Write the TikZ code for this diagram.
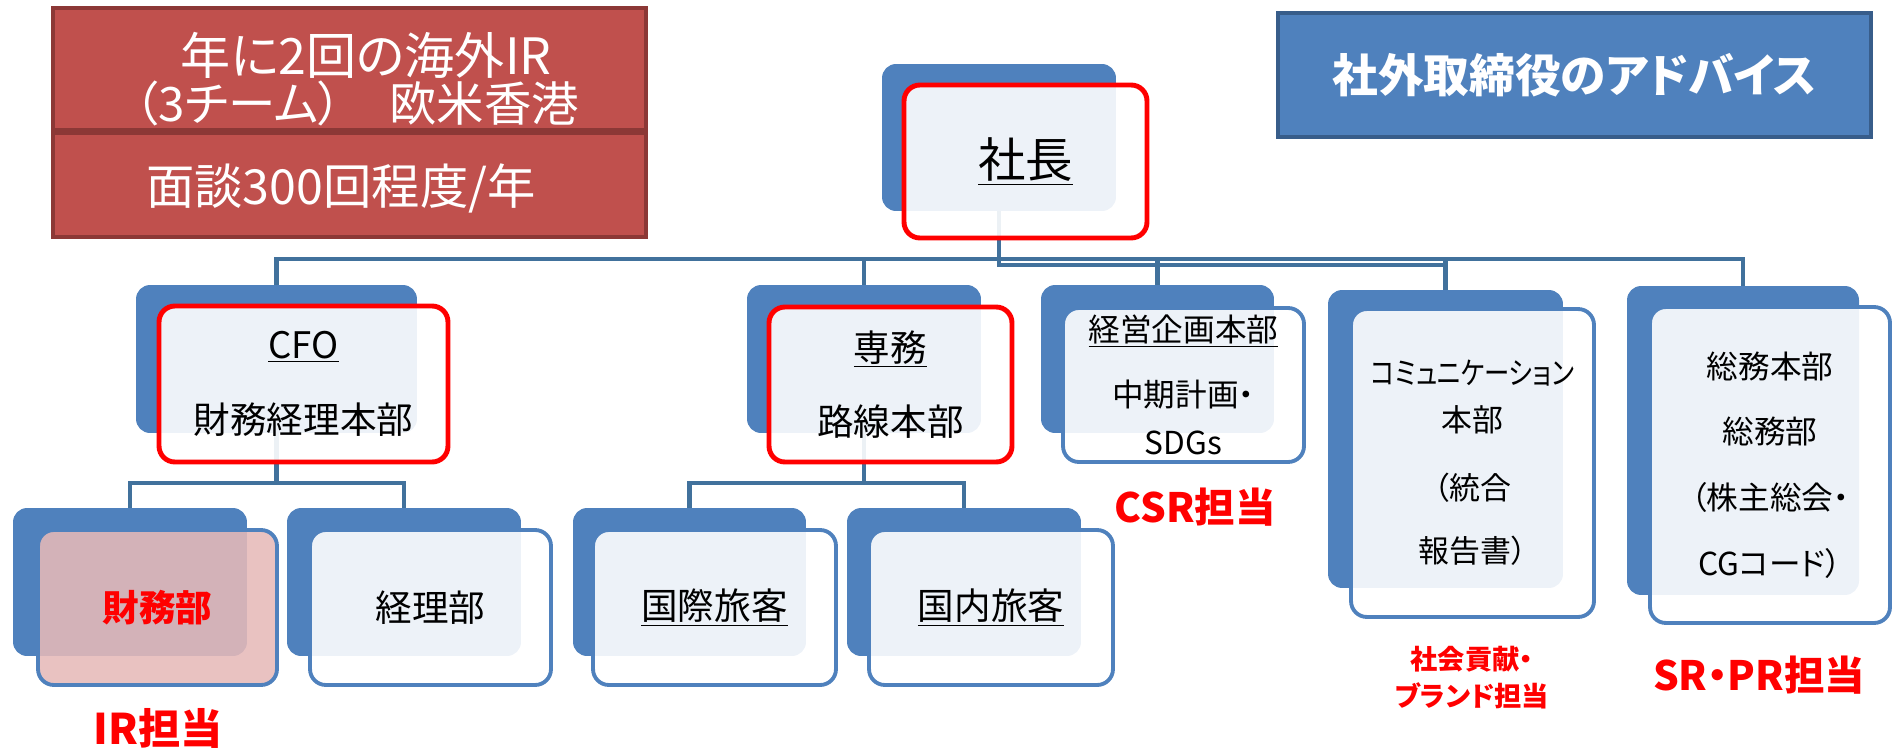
\documentclass[tikz,border=0pt]{standalone}
\usepackage{fontspec}
\usepackage{graphicx}
\setmainfont{Noto Sans CJK JP}[RawFeature=+palt]
\definecolor{nodeblue}{HTML}{4F81BD}
\definecolor{edgeblue}{HTML}{385D8A}
\definecolor{connblue}{HTML}{41719C}
\definecolor{boxred}{HTML}{C0504D}
\definecolor{boxredline}{HTML}{8C3836}
\definecolor{pinkfill}{HTML}{E6B9B8}
\pgfdeclarelayer{bg}
\pgfsetlayers{bg,main}
\begin{document}
\begin{tikzpicture}[x=0.02cm,y=-0.02cm,
  back/.style={fill=nodeblue, rounded corners=8pt, inner sep=0pt},
  front/.style={fill=white, fill opacity=0.9, text opacity=1, draw=nodeblue,
    line width=2.2pt, rounded corners=9pt, inner sep=0pt, align=center},
  chief/.style={front, draw=red, line width=2.8pt},
  conn/.style={draw=connblue, line width=2.4pt},
  note/.style={text=red, font=\bfseries\fontsize{23}{28}\selectfont, align=center, inner sep=0pt},
  redbox/.style={fill=boxred, draw=boxredline, line width=1.8pt, inner sep=0pt},
  whitetext/.style={text=white, inner sep=0pt, align=center},
  advbox/.style={fill=nodeblue, draw=edgeblue, line width=2.2pt, inner sep=0pt,
    text=white, font=\bfseries\fontsize{26}{30}\selectfont}
]
\useasboundingbox (0,0) rectangle (1893,750);

% top-left red boxes
\node[redbox, minimum width=11.86cm, minimum height=2.44cm] (irbox) at (349.5,69) {};
\node[redbox, minimum width=11.86cm, minimum height=2.08cm] (meetbox) at (349.5,185) {};
\node[whitetext, font=\fontsize{28.5}{32}\selectfont] (irline1) at (366,55) {年に2回の海外IR};
\node[whitetext, font=\fontsize{27}{32}\selectfont] (irline2) at (357,103) {（3チーム）　欧米香港};
\node[whitetext, font=\fontsize{27.5}{32}\selectfont] (meettext) at (341,188) {面談300回程度/年};

% top-right blue box
\node[advbox, minimum width=11.86cm, minimum height=2.48cm] (advice) at (1574.5,75) {社外取締役のアドバイス};

% president
\node[back, minimum width=4.68cm, minimum height=2.94cm] (shachoB) at (999,137.5) {};
\node[chief, minimum width=4.86cm, minimum height=3.06cm, font=\fontsize{27}{32}\selectfont] (shacho) at (1025.5,161.5) {\underline{社長}};

% level 2
\node[back, minimum width=5.62cm, minimum height=2.96cm] (cfoB) at (276.5,359) {};
\node[chief, minimum width=5.78cm, minimum height=3.12cm, font=\fontsize{20.8}{42.5}\selectfont] (cfo) at (303.5,384) {\underline{CFO}\\財務経理本部};

\node[back, minimum width=4.68cm, minimum height=2.96cm] (senmuB) at (864,359) {};
\node[chief, minimum width=4.86cm, minimum height=3.10cm, font=\fontsize{20.8}{42.5}\selectfont] (senmu) at (890.5,384.5) {\underline{専務}\\路線本部};

\node[back, minimum width=4.66cm, minimum height=2.96cm] (keieiB) at (1157.5,359) {};
\node[front, minimum width=4.82cm, minimum height=3.08cm, font=\fontsize{18}{27.8}\selectfont] (keiei) at (1183.5,385) {\underline{経営企画本部}\\[9pt]中期計画・\\SDGs};

\node[back, minimum width=4.70cm, minimum height=5.96cm] (commB) at (1445.5,439) {};
\node[front, minimum width=4.86cm, minimum height=6.16cm, font=\fontsize{17.6}{36.3}\selectfont] (comm) at (1472.5,463) {\scalebox{0.82}[1]{コミュニケーション}\\[-9.7pt]本部\\[2.2pt]（統合\\報告書）};

\node[back, minimum width=4.64cm, minimum height=6.18cm] (somuB) at (1743,440.5) {};
\node[front, minimum width=4.80cm, minimum height=6.32cm, font=\fontsize{18}{37.4}\selectfont] (somu) at (1770,465) {総務本部\\総務部\\（株主総会・\\CGコード）};

% level 3
\node[back, minimum width=4.68cm, minimum height=2.96cm] (zaimuB) at (130,582) {};
\node[front, fill=pinkfill, fill opacity=0.88, minimum width=4.78cm, minimum height=3.10cm, text=red, font=\bfseries\fontsize{20.8}{25}\selectfont] (zaimu) at (157.5,607.5) {財務部};

\node[back, minimum width=4.68cm, minimum height=2.96cm] (keiriB) at (404,582) {};
\node[front, minimum width=4.82cm, minimum height=3.10cm, font=\fontsize{20.8}{25}\selectfont] (keiri) at (430.5,607.5) {経理部};

\node[back, minimum width=4.66cm, minimum height=2.96cm] (kokusaiB) at (689.5,582) {};
\node[front, minimum width=4.86cm, minimum height=3.10cm, font=\fontsize{20.8}{25}\selectfont] (kokusai) at (714.5,607.5) {\underline{国際旅客}};

\node[back, minimum width=4.68cm, minimum height=2.96cm] (kokunaiB) at (964,582) {};
\node[front, minimum width=4.88cm, minimum height=3.10cm, font=\fontsize{20.8}{25}\selectfont] (kokunai) at (991,607.5) {\underline{国内旅客}};

% red notes
\node[note, font=\bfseries\fontsize{24}{28}\selectfont] (irnote) at (158,728) {IR担当};
\node[note] (csrnote) at (1195,507) {CSR担当};
\node[note, font=\bfseries\fontsize{15.5}{21}\selectfont] (brandnote) at (1472,678) {社会貢献・\\ブランド担当};
\node[note] (srnote) at (1759,675) {SR・PR担当};

% connectors
\coordinate (bus1) at (0,259);
\coordinate (bus2) at (0,265);
\coordinate (subbus) at (0,483);
\begin{pgfonlayer}{bg}
  \draw[conn] (shachoB.center) -- (shachoB.center |- bus2) -- (commB.center |- bus2);
  \draw[conn] (cfoB.center) -- (cfoB.center |- bus1) -- (somuB.center |- bus1) -- (somuB.center);
  \draw[conn] (senmuB.center |- bus1) -- (senmuB.center);
  \draw[conn] (keieiB.center |- bus1) -- (keieiB.center);
  \draw[conn] (commB.center |- bus1) -- (commB.center);
  \draw[conn] (cfoB.center) -- (cfoB.center |- subbus);
  \draw[conn] (zaimuB.center) -- (zaimuB.center |- subbus) -- (keiriB.center |- subbus) -- (keiriB.center);
  \draw[conn] (senmuB.center) -- (senmuB.center |- subbus);
  \draw[conn] (kokusaiB.center) -- (kokusaiB.center |- subbus) -- (kokunaiB.center |- subbus) -- (kokunaiB.center);
\end{pgfonlayer}
\end{tikzpicture}
\end{document}
